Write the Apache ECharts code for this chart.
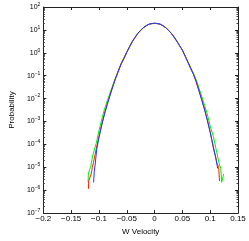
<!DOCTYPE html>
<html><head><meta charset="utf-8">
<script src="https://cdn.jsdelivr.net/npm/echarts@6/dist/echarts.min.js"></script>
<style>html,body{margin:0;padding:0;background:#fff}#c{width:249px;height:241px}</style>
</head><body><div id="c"></div>
<script>
// x ticks
const xTicks = [-0.2, -0.15, -0.1, -0.05, 0, 0.05, 0.1, 0.15];
// y decades (exponents)
const yDecades = [-7, -6, -5, -4, -3, -2, -1, 0, 1, 2];

// Blue series: W velocity and probability
const blueX = [-0.1097,-0.1085,-0.107,-0.104,-0.1,-0.095,-0.09,-0.085,-0.08,-0.075,-0.07,-0.065,-0.06,-0.055,-0.05,-0.045,-0.04,-0.035,-0.03,-0.025,-0.02,-0.015,-0.01,-0.005,0,0.005,0.01,0.015,0.02,0.025,0.03,0.035,0.04,0.045,0.05,0.055,0.06,0.065,0.07,0.075,0.08,0.085,0.09,0.095,0.1,0.105,0.11,0.1124,0.1135];
const blueP = [2.2e-6,6.3e-6,1.26e-5,6.3e-5,2.0e-4,7.1e-4,2.1e-3,5.6e-3,1.41e-2,3.4e-2,7.6e-2,0.16,0.33,0.56,1.05,1.86,3.1,4.8,7.1,9.8,12.6,15.5,17.8,19.1,19.5,19.1,17.8,15.5,12.6,9.8,7.1,5.0,3.2,2.0,1.3,0.71,0.38,0.2,0.112,5.6e-2,2.1e-2,8.3e-3,3.2e-3,1.07e-3,3.3e-4,9.5e-5,2.5e-5,1.26e-5,8.9e-6];

// Red series
const redX = [-0.119,-0.1185,-0.1135,-0.112,-0.11,-0.105,-0.1,-0.095,-0.09,-0.085,-0.08,-0.07,-0.06,-0.05,-0.04,-0.03,-0.02,-0.01,0,0.01,0.02,0.03,0.04,0.05,0.06,0.07,0.08,0.09,0.095,0.1,0.106,0.11,0.1124,0.1151,0.1168];
const redP = [1.15e-6,2.5e-6,5.6e-6,1.0e-5,1.6e-5,6.3e-5,2.2e-4,7.6e-4,2.3e-3,6.0e-3,1.5e-2,8.0e-2,0.34,1.06,3.1,7.1,12.6,17.8,19.5,17.8,12.6,7.1,3.2,1.3,0.39,0.115,2.2e-2,3.4e-3,1.15e-3,3.6e-4,6.3e-5,2.8e-5,1.4e-5,1.07e-5,2.5e-6];

// Green series
const greenX = [-0.1196,-0.1191,-0.117,-0.1151,-0.1115,-0.1095,-0.105,-0.1,-0.095,-0.09,-0.085,-0.08,-0.075,-0.07,-0.06,-0.05,-0.04,-0.03,-0.02,-0.01,0,0.01,0.02,0.03,0.04,0.05,0.06,0.07,0.075,0.08,0.085,0.09,0.0948,0.1,0.1058,0.11,0.1168,0.119,0.1206,0.1243];
const greenP = [2.2e-6,5.0e-6,7.9e-6,1.0e-5,3.2e-5,3.8e-5,1.1e-4,4.0e-4,1.26e-3,3.5e-3,8.3e-3,1.8e-2,4.0e-2,8.5e-2,0.35,1.08,3.2,7.1,12.6,17.8,19.5,17.8,12.6,7.1,3.2,1.35,0.4,0.125,6.3e-2,2.8e-2,1.2e-2,5.0e-3,2.1e-3,6.3e-4,2.2e-4,7.1e-5,1.26e-5,9.1e-6,2.2e-6,5.1e-6];

function zip(xs, ys){ return xs.map((x,i)=>[x, ys[i]]); }

const font = 'Liberation Sans';
const axisLineStyle = {color:'#222', width:1};
const chart = echarts.init(document.getElementById('c'), null, {renderer:'canvas'});
chart.setOption({
  animation:false,
  backgroundColor:'#fff',
  grid:{left:25, right:11, top:7, bottom:17, containLabel:false},
  xAxis:[{
    type:'value', min:xTicks[0], max:xTicks[xTicks.length-1], interval:0.05,
    name:'W Velocity', nameLocation:'middle', nameGap:11,
    nameTextStyle:{fontFamily:font, fontSize:8, color:'#000'},
    axisLine:{onZero:false, lineStyle:axisLineStyle},
    axisTick:{inside:true, length:3, lineStyle:{color:'#222'}},
    axisLabel:{fontFamily:font, fontSize:8, color:'#000', margin:2,
      formatter:v=>String(+v.toFixed(2)).replace('-', '\u2212')},
    splitLine:{show:false}
  },{
    type:'value', position:'top', min:xTicks[0], max:xTicks[xTicks.length-1], interval:0.05,
    axisLine:{onZero:false, lineStyle:axisLineStyle},
    axisTick:{inside:true, length:3, lineStyle:{color:'#222'}},
    axisLabel:{show:false}, splitLine:{show:false}
  }],
  yAxis:[{
    type:'log', logBase:10, min:Math.pow(10,yDecades[0]), max:Math.pow(10,yDecades[yDecades.length-1]),
    position:'left',
    name:'Probability', nameLocation:'middle', nameGap:17,
    nameTextStyle:{fontFamily:font, fontSize:8, color:'#000'},
    axisLine:{show:true, onZero:false, lineStyle:axisLineStyle},
    axisTick:{inside:true, length:3, lineStyle:{color:'#222'}},
    minorTick:{show:true, splitNumber:9, length:1.5, lineStyle:{color:'#444'}},
    axisLabel:{fontFamily:font, fontSize:7, color:'#000', margin:3,
      formatter:v=>{const e=Math.round(Math.log10(v)); return '10{s|'+String(e).replace('-','\u2212')+'}';},
      rich:{s:{fontFamily:font, fontSize:5, color:'#000', padding:[0,0,5,0]}}},
    splitLine:{show:false}
  },{
    type:'log', logBase:10, position:'right', min:Math.pow(10,yDecades[0]), max:Math.pow(10,yDecades[yDecades.length-1]),
    axisLine:{show:true, onZero:false, lineStyle:axisLineStyle},
    axisTick:{inside:true, length:3, lineStyle:{color:'#222'}},
    minorTick:{show:true, splitNumber:9, length:1.5, lineStyle:{color:'#444'}},
    axisLabel:{show:false}, splitLine:{show:false}
  }],
  series:[
    {type:'line', data:zip(greenX, greenP), showSymbol:false, lineStyle:{color:'#00ee00', width:1}, itemStyle:{color:'#00ee00'}},
    {type:'line', data:zip(redX, redP), showSymbol:false, lineStyle:{color:'#ff2000', width:1}, itemStyle:{color:'#ff2000'}},
    {type:'line', data:zip(blueX, blueP), showSymbol:false, lineStyle:{color:'#1a3cff', width:1}, itemStyle:{color:'#1a3cff'}}
  ]
});
</script></body></html>
